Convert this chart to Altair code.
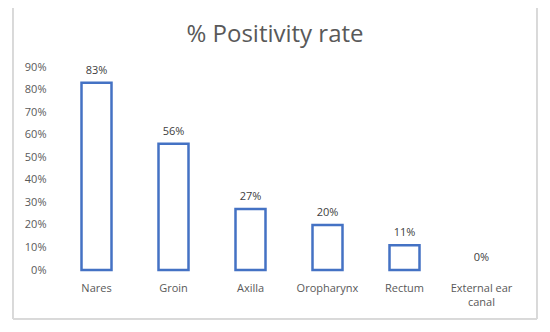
import altair as alt
import pandas as pd

categories = ["Nares", "Groin", "Axilla", "Oropharynx", "Rectum", "External ear canal"]
values = [0.83, 0.56, 0.27, 0.20, 0.11, 0.0]
labels = ["83%", "56%", "27%", "20%", "11%", "0%"]

df = pd.DataFrame({"site": categories, "rate": values, "label": labels})

FONT = "Open Sans"
GRAY = "#595959"

x = alt.X("site:N", sort=categories, title=None,
          scale=alt.Scale(paddingInner=0, paddingOuter=0),
          axis=alt.Axis(labelAngle=0, ticks=False, domain=False, labelPadding=12,
                        labelFont=FONT, labelFontSize=11, labelColor=GRAY,
                        labelLineHeight=14,
                        labelExpr="datum.label == 'External ear canal' ? ['External ear', 'canal'] : datum.label"))
y = alt.Y("rate:Q", title=None,
          scale=alt.Scale(domain=[0, 0.9], nice=False),
          axis=alt.Axis(format=".0%", values=[0, 0.1, 0.2, 0.3, 0.4, 0.5, 0.6, 0.7, 0.8, 0.9],
                        grid=False, ticks=False, domain=False, labelPadding=12,
                        labelFont=FONT, labelFontSize=11, labelColor=GRAY))

frame = alt.Chart(df).mark_rect(fillOpacity=0, stroke="#d9d9d9", strokeWidth=1).encode(
    x=alt.value(-45), x2=alt.value(479), y=alt.value(-60), y2=alt.value(252)
)

bars = alt.Chart(df).mark_bar(fill="white", stroke="#4472C4", strokeWidth=2.5, size=30).encode(
    x=x, y=y,
    strokeOpacity=alt.condition("datum.rate > 0", alt.value(1), alt.value(0)),
)

text = alt.Chart(df).mark_text(font=FONT, fontSize=11, color="#404040", baseline="bottom", dy=-7).encode(
    x=x, y=y, text="label:N"
)

chart = alt.layer(frame, bars, text).properties(
    width=462, height=203,
    title=alt.TitleParams("% Positivity rate", font=FONT, fontSize=24, fontWeight="normal",
                          color=GRAY, anchor="middle", frame="bounds", offset=-40),
    autosize=alt.AutoSizeParams(type="none"),
    padding={"left": 50, "top": 59, "right": 22, "bottom": 54},
).configure_view(stroke=None)

chart.save("out.html", embed_options={"renderer": "svg", "actions": False})
